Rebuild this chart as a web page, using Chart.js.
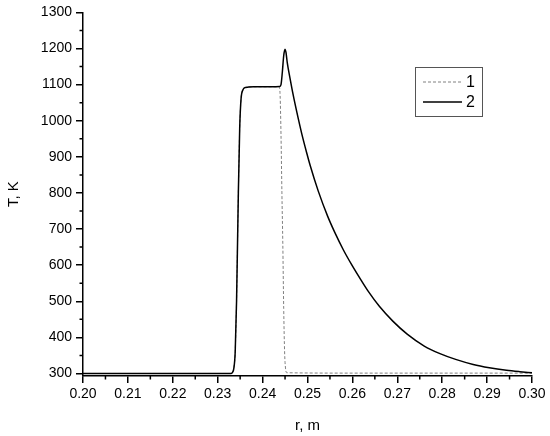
<!DOCTYPE html>
<html>
<head>
<meta charset="utf-8">
<script src="https://cdn.jsdelivr.net/npm/chart.js@4.4.1/dist/chart.umd.min.js"></script>
<style>
    html, body { margin: 0; padding: 0; background: #fff; }
    #wrap { width: 550px; height: 436px; }
</style>
</head>
<body>
<div id="wrap"><canvas id="grafico"></canvas></div>
<script>
// radius, m  /  temperature, K
var r1 = [0.2000, 0.2330, 0.2333, 0.2336, 0.2339, 0.2342, 0.2346, 0.2349, 0.2352, 0.2356, 0.2362,
          0.2380, 0.2420, 0.2437, 0.2439, 0.2441, 0.2443, 0.2445, 0.2447, 0.2449, 0.2451, 0.2454, 0.2600, 0.3000];
var t1 = [300, 300, 303, 315, 360, 500, 800, 980, 1060, 1085, 1092,
          1094, 1094, 1094, 1070, 960, 800, 660, 480, 360, 315, 302, 301, 301];

var r2 = [0.2000, 0.2330, 0.2333, 0.2336, 0.2339, 0.2342, 0.2346, 0.2349, 0.2352, 0.2356, 0.2362,
          0.2380, 0.2420, 0.2438, 0.2441, 0.2444, 0.2447, 0.2450, 0.2452, 0.2455, 0.2461, 0.2468,
          0.2476, 0.2487, 0.2498, 0.2506, 0.2524, 0.2545, 0.2561, 0.2580, 0.2598, 0.2620, 0.2635,
          0.2660, 0.2690, 0.2722, 0.2760, 0.2795, 0.2830, 0.2869, 0.2905, 0.2943, 0.2973, 0.3000];
var t2 = [300, 300, 303, 315, 360, 500, 800, 980, 1060, 1085, 1092,
          1094, 1094, 1095, 1100, 1135, 1180, 1198, 1190, 1160, 1118, 1072,
          1025, 965, 912, 876, 805, 735, 690, 642, 602, 557, 528,
          486, 445, 409, 376, 355, 339, 325, 316, 309, 305, 302];

var seriesNames = ['1', '2'];
var yTicks = [300, 400, 500, 600, 700, 800, 900, 1000, 1100, 1200, 1300];
var yMinor = [350, 450, 550, 650, 750, 850, 950, 1050, 1150, 1250];
var xMinor = [0.205, 0.215, 0.225, 0.235, 0.245, 0.255, 0.265, 0.275, 0.285, 0.295];

function pontos(xs, ys) {
    return xs.map(function (x, i) { return { x: x, y: ys[i] }; });
}

Chart.defaults.font.family = '"Liberation Sans", Arial, sans-serif';
Chart.defaults.color = '#000';

// minor ticks + legend box
var extras = {
    id: 'extras',
    afterDraw: function (chart) {
        var c = chart.ctx, xs = chart.scales.x, ys = chart.scales.y;
        c.save();
        c.strokeStyle = '#000';
        c.lineWidth = 1.5;
        c.beginPath();
        yMinor.forEach(function (v) {
            var p = ys.getPixelForValue(v);
            c.moveTo(ys.right - 3.5, p); c.lineTo(ys.right, p);
        });
        xMinor.forEach(function (v) {
            var p = xs.getPixelForValue(v);
            c.moveTo(p, xs.top); c.lineTo(p, xs.top + 3.5);
        });
        c.stroke();

        // legend
        c.lineWidth = 1;
        c.strokeStyle = '#555';
        c.strokeRect(415.5, 67.5, 67, 49);
        var ds = chart.data.datasets;
        [82, 102].forEach(function (y, i) {
            c.beginPath();
            c.strokeStyle = ds[i].borderColor;
            c.lineWidth = ds[i].borderWidth;
            c.setLineDash(ds[i].borderDash || []);
            c.moveTo(423, y); c.lineTo(462, y);
            c.stroke();
            c.setLineDash([]);
            c.fillStyle = '#000';
            c.font = '16px "Liberation Sans", Arial, sans-serif';
            c.textBaseline = 'middle';
            c.fillText(ds[i].label, 466, y + 1);
        });
        c.restore();
    }
};

var ctx = document.getElementById('grafico').getContext('2d');
var grafico = new Chart(ctx, {
    type: 'line',
    data: {
        datasets: [{
            label: seriesNames[0],
            data: pontos(r1, t1),
            borderColor: '#808080',
            borderWidth: 1,
            borderDash: [3, 2],
            pointRadius: 0,
            cubicInterpolationMode: 'monotone',
            order: 1
        }, {
            label: seriesNames[1],
            data: pontos(r2, t2),
            borderColor: '#000',
            borderWidth: 1.5,
            pointRadius: 0,
            cubicInterpolationMode: 'monotone',
            order: 0
        }]
    },
    options: {
        responsive: true,
        maintainAspectRatio: false,
        animation: false,
        layout: { padding: { top: 11, right: 18, bottom: 0, left: 0 } },
        plugins: { legend: { display: false }, tooltip: { enabled: false } },
        scales: {
            x: {
                type: 'linear',
                min: 0.20,
                max: 0.30,
                afterFit: function (s) { s.height = 60; },
                ticks: {
                    stepSize: 0.01,
                    padding: 3,
                    font: { size: 14 },
                    maxRotation: 0,
                    callback: function (v) { return v.toFixed(2); }
                },
                grid: { drawOnChartArea: false, drawTicks: true, tickLength: 7, color: '#000', lineWidth: 1.5 },
                border: { display: true, color: '#000', width: 1.5 },
                title: { display: true, text: 'r, m', font: { size: 15 }, padding: { top: 0, bottom: 1 } }
            },
            y: {
                min: 293,
                max: 1300,
                afterFit: function (s) { s.width = 83; },
                afterBuildTicks: function (s) {
                    s.ticks = yTicks.map(function (v) { return { value: v }; });
                },
                ticks: {
                    padding: 4,
                    font: { size: 14 },
                    callback: function (v) { return String(v); }
                },
                grid: { drawOnChartArea: false, drawTicks: true, tickLength: 7, color: '#000', lineWidth: 1.5 },
                border: { display: true, color: '#000', width: 1.5 },
                title: { display: true, text: 'T, K', font: { size: 15 }, padding: { top: 5, bottom: 0 } }
            }
        }
    },
    plugins: [extras]
});
</script>
</body>
</html>
